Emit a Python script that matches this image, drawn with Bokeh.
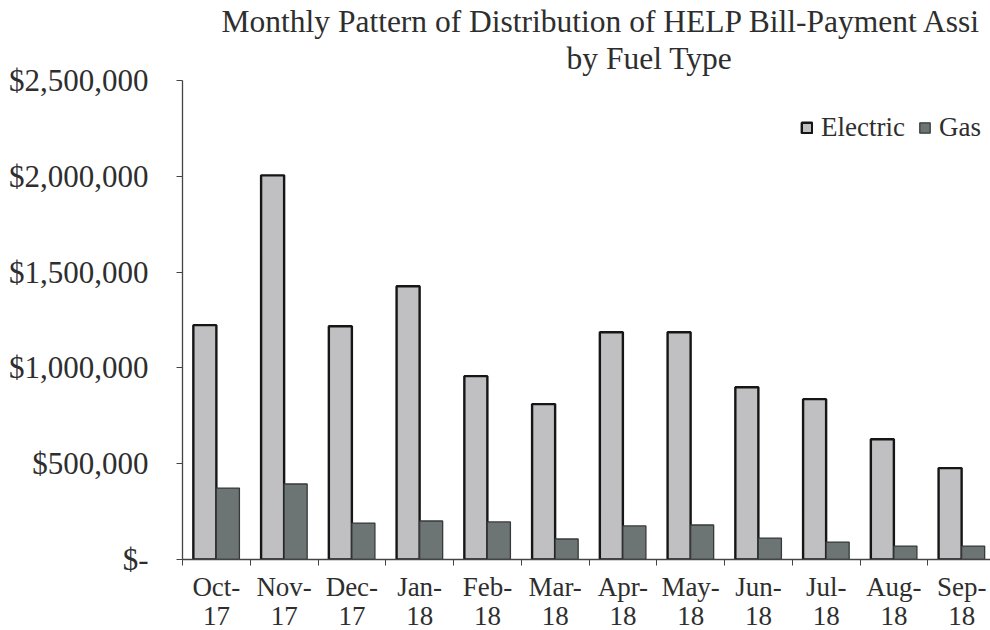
from bokeh.plotting import figure
from bokeh.models import (Range1d, FixedTicker, NumeralTickFormatter, Label, Legend,
                          LegendItem, ColumnDataSource, LinearAxis)
from bokeh.transform import dodge
from bokeh.embed import file_html
from bokeh.resources import INLINE

# ---- data ----
month_names = ["Oct-", "Nov-", "Dec-", "Jan-", "Feb-", "Mar-",
               "Apr-", "May-", "Jun-", "Jul-", "Aug-", "Sep-"]
month_years = ["17", "17", "17", "18", "18", "18",
               "18", "18", "18", "18", "18", "18"]
electric = [1223000, 2005000, 1217000, 1426000, 957000, 811000,
            1186000, 1186000, 899000, 837000, 628000, 477000]
gas = [373000, 394000, 190000, 201000, 196000, 107000,
       175000, 180000, 112000, 91000, 70000, 70000]
y_ticks = [0, 500000, 1000000, 1500000, 2000000, 2500000]
title_line1 = "Monthly Pattern of Distribution of HELP Bill-Payment Assi"
title_line2 = "by Fuel Type"
series_names = ["Electric", "Gas"]

FONT = "Liberation Serif"
TXT = "#2e2e2e"

idx = list(range(len(month_names)))
src = ColumnDataSource(dict(x=idx, electric=electric, gas=gas))

W, H = 990, 630
LEFT = 182
BOTTOM = 71
cat_px = 67.75
x_end = -0.5 + (W - LEFT) / cat_px
YB = H - BOTTOM   # pixel row of the frame bottom (value 0)
Y_TOP_TICK = 80   # pixel row of the top tick
ymax = 2500000
per_px = ymax / (YB - Y_TOP_TICK)
y_top = YB * per_px

p = figure(width=W, height=H, output_backend="svg", toolbar_location=None,
           x_range=Range1d(-0.5, x_end), y_range=Range1d(0, y_top),
           min_border_left=LEFT, min_border_right=0, min_border_top=0,
           min_border_bottom=BOTTOM)
p.outline_line_color = None
p.xgrid.visible = False
p.ygrid.visible = False
p.background_fill_color = "white"
p.border_fill_color = "white"

r1 = p.vbar(x=dodge("x", -0.17, range=p.x_range), top="electric", width=0.34,
            source=src, fill_color="#c0c0c2", line_color="#161616", line_width=2.4)
r2 = p.vbar(x=dodge("x", 0.17, range=p.x_range), top="gas", width=0.34,
            source=src, fill_color="#6d7474", line_color="#363a3a", line_width=1.3)

# x axis: month line
xa = p.xaxis[0]
xa.ticker = FixedTicker(ticks=idx, minor_ticks=[i - 0.5 for i in idx] + [idx[-1] + 0.5])
xa.major_label_overrides = {i: month_names[i] for i in idx}
xa.major_tick_out = 0
xa.major_tick_in = 0
xa.minor_tick_out = 6
xa.minor_tick_in = 0
xa.minor_tick_line_color = "#444444"
xa.axis_line_color = "#444444"
xa.axis_line_width = 1.3
xa.major_label_standoff = 6
xa.major_label_text_font = FONT
xa.major_label_text_font_size = "27px"
xa.major_label_text_color = TXT

# x axis: year line
xa2 = LinearAxis(ticker=FixedTicker(ticks=idx),
                 major_label_overrides={i: month_years[i] for i in idx})
xa2.axis_line_color = None
xa2.major_tick_out = 0
xa2.major_tick_in = 0
xa2.minor_tick_out = 0
xa2.minor_tick_in = 0
xa2.major_label_standoff = 2
xa2.major_label_text_font = FONT
xa2.major_label_text_font_size = "27px"
xa2.major_label_text_color = TXT
p.add_layout(xa2, "below")

# y axis
ya = p.yaxis[0]
ya.ticker = FixedTicker(ticks=y_ticks)
ya.bounds = (0, ymax)
ya.formatter = NumeralTickFormatter(format="$0,0")
ya.major_label_overrides = {0: "$-"}
ya.major_tick_out = 6
ya.major_tick_in = 0
ya.minor_tick_out = 0
ya.minor_tick_in = 0
ya.major_tick_line_color = "#444444"
ya.axis_line_color = "#444444"
ya.axis_line_width = 1.3
ya.major_label_standoff = 28
ya.major_label_text_font = FONT
ya.major_label_text_font_size = "31px"
ya.major_label_text_color = TXT


def dx(px):
    return -0.5 + (px - LEFT) / cat_px


def dy(py):
    return (YB - py) * per_px


p.add_layout(Label(x=dx(221), y=dy(21), text=title_line1, text_align="left",
                   text_baseline="alphabetic", text_font=FONT, text_font_size="31.5px",
                   text_color=TXT))
p.add_layout(Label(x=dx(649), y=dy(58), text=title_line2, text_align="center",
                   text_baseline="alphabetic", text_font=FONT, text_font_size="31.5px",
                   text_color=TXT))

legend = Legend(items=[LegendItem(label=series_names[0], renderers=[r1]),
                       LegendItem(label=series_names[1], renderers=[r2])],
                location=(618, YB - 143), orientation="horizontal",
                glyph_width=13, glyph_height=13, label_standoff=8, spacing=13,
                padding=0, margin=0, border_line_color=None,
                background_fill_alpha=0, label_text_font=FONT,
                label_text_font_size="27px", label_text_color=TXT)
p.add_layout(legend)

open("out.html", "w").write(file_html(p, INLINE))
